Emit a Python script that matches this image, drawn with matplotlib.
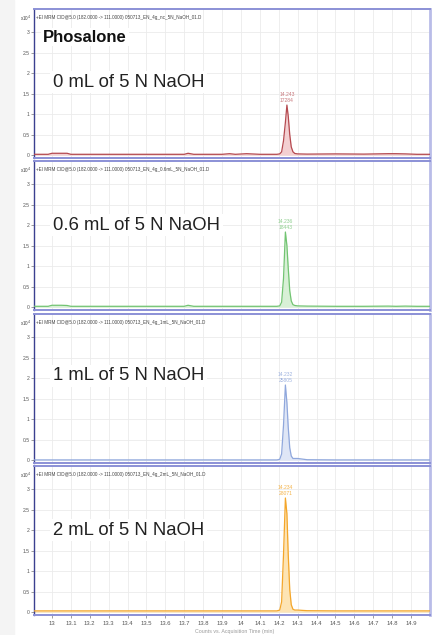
"""Phosalone MRM chromatograms at four NaOH additions (stacked panels)."""

import matplotlib

matplotlib.use("Agg")
import matplotlib.pyplot as plt  # noqa: E402
from matplotlib.patches import Rectangle  # noqa: E402
import numpy as np  # noqa: E402

# ---- data ------------------------------------------------------------------
conditions = ["0 mL of 5 N NaOH", "0.6 mL of 5 N NaOH",
              "1 mL of 5 N NaOH", "2 mL of 5 N NaOH"]
files = ["050713_EN_4g_nc_5N_NaOH_01.D", "050713_EN_4g_0.6mL_5N_NaOH_01.D",
         "050713_EN_4g_1mL_5N_NaOH_01.D", "050713_EN_4g_2mL_5N_NaOH_01.D"]
peak_rt = ["14.243", "14.236", "14.232", "14.234"]
peak_height = ["17284", "18443", "25805", "28071"]

# acquisition time (min), shared grid
rt = [12.905, 12.98, 13.0, 13.05, 13.08, 13.1, 13.3, 13.5, 13.7, 13.72,
      13.75, 13.9, 13.94, 13.97, 14.03, 14.1, 14.19, 14.205, 14.215, 14.225,
      14.235, 14.243, 14.25, 14.258, 14.266, 14.275, 14.285, 14.3, 14.35,
      14.5, 14.65, 14.78, 14.82, 14.87, 14.93, 15.0]

# counts x10^4
counts_0ml = [0.02, 0.02, 0.045, 0.045, 0.045, 0.02, 0.02, 0.02, 0.02, 0.045,
              0.02, 0.02, 0.035, 0.02, 0.035, 0.02, 0.02, 0.03, 0.08, 0.35,
              0.80, 1.22, 0.95, 0.50, 0.20, 0.08, 0.04, 0.03, 0.025, 0.03,
              0.025, 0.035, 0.035, 0.03, 0.02, 0.02]
counts_06ml = [0.02, 0.02, 0.045, 0.045, 0.04, 0.02, 0.02, 0.02, 0.02, 0.045,
               0.02, 0.02, 0.02, 0.02, 0.02, 0.02, 0.02, 0.03, 0.12, 0.70,
               1.83, 1.50, 0.95, 0.40, 0.15, 0.06, 0.04, 0.03, 0.025, 0.02,
               0.02, 0.025, 0.02, 0.025, 0.02, 0.02]
counts_1ml = [0.005, 0.005, 0.005, 0.005, 0.005, 0.005, 0.005, 0.005, 0.005,
              0.005, 0.005, 0.005, 0.005, 0.005, 0.005, 0.005, 0.005, 0.02,
              0.15, 0.85, 1.83, 1.40, 0.80, 0.30, 0.10, 0.04, 0.04, 0.04,
              0.01, 0.005, 0.005, 0.005, 0.005, 0.005, 0.005, 0.005]
counts_2ml = [0.03, 0.03, 0.03, 0.03, 0.03, 0.03, 0.03, 0.03, 0.03, 0.03,
              0.03, 0.03, 0.03, 0.03, 0.03, 0.03, 0.03, 0.05, 0.25, 1.40,
              2.78, 2.40, 1.40, 0.55, 0.18, 0.07, 0.05, 0.05, 0.035, 0.03,
              0.03, 0.03, 0.03, 0.03, 0.03, 0.03]
traces = [counts_0ml, counts_06ml, counts_1ml, counts_2ml]

line_colors = ["#b5494f", "#72c472", "#8fa7dc", "#f4a62a"]
fill_colors = ["#f3cfd1", "#d8f0d6", "#dfe6f6", "#fde4b4"]
label_colors = ["#c97a7e", "#8fcf8f", "#9fb3e0", "#f4b34a"]

x_ticks = [round(13 + 0.1 * i, 1) for i in range(20)]
y_ticks = [0, 0.5, 1, 1.5, 2, 2.5, 3]

plt.rcParams["font.family"] = ["Liberation Sans", "DejaVu Sans"]
NARROW = ["Liberation Sans Narrow", "Liberation Sans", "DejaVu Sans"]

W, H = 435, 635
fig = plt.figure(figsize=(W / 100, H / 100), dpi=100)
fig.add_artist(Rectangle((0, 0), 14 / W, 1, transform=fig.transFigure,
                         color="#f4f4f4", zorder=0))

left_px, right_px = 34, 430
bottoms = [158, 310, 463, 615]
panel_h = 149
title_y = [0.51, 0.57, 0.584, 0.57]

for i in range(4):
    b = 1 - bottoms[i] / H
    ax = fig.add_axes([left_px / W, b, (right_px - left_px) / W, panel_h / H])
    ax.set_xlim(12.905, 15.0)
    ax.set_ylim(-0.07, 3.56)

    y = np.array(traces[i])
    ax.fill_between(rt, 0, y, color=fill_colors[i], lw=0, zorder=2)
    ax.plot(rt, y, color=line_colors[i], lw=0.9, zorder=3)

    ax.set_xticks(x_ticks)
    ax.set_yticks(y_ticks)
    ax.grid(True, color="#ebebeb", lw=0.6, zorder=0)
    ax.set_axisbelow(True)
    ax.set_yticklabels([f"{v:g}" for v in y_ticks], fontsize=3.6,
                       color="#555555", family=NARROW)
    ax.tick_params(axis="y", length=2, width=0.5, color="#777777", pad=1)
    if i == 3:
        ax.set_xticklabels([f"{v:g}" for v in x_ticks], fontsize=4.2,
                           color="#555555", family=NARROW)
        ax.tick_params(axis="x", length=2, width=0.5, color="#777777", pad=2)
    else:
        ax.tick_params(axis="x", length=0, labelbottom=False)

    for side in ("top", "bottom"):
        ax.spines[side].set_color("#8b90d6")
        ax.spines[side].set_linewidth(1.4)
    ax.spines["right"].set_color("#b9bce8")
    ax.spines["right"].set_linewidth(2.0)
    ax.spines["left"].set_color("#3b4090")
    ax.spines["left"].set_linewidth(1.0)

    # instrument header line
    ax.text(0.004, 0.94, f"+EI MRM CID@5.0 (182.0000 -> 111.0000) {files[i]}",
            transform=ax.transAxes, fontsize=3.3, color="#444444",
            family=NARROW, va="center", ha="left")
    ax.text(-0.006, 0.94, r"x10$^4$", transform=ax.transAxes, fontsize=3.3,
            color="#444444", va="center", ha="right")

    # peak annotation
    k = int(np.argmax(y))
    ax.text(rt[k], y[k] + 0.06, f"{peak_rt[i]}\n{peak_height[i]}",
            fontsize=3.6, color=label_colors[i], ha="center", va="bottom",
            family=NARROW, linespacing=1.1, zorder=4)

    ax.text(0.048, title_y[i], conditions[i], transform=ax.transAxes,
            fontsize=13.3, color="#222222", va="center", ha="left", zorder=5,
            bbox=dict(boxstyle="square,pad=0.15", fc="white", ec="none"))
    if i == 0:
        ax.text(0.023, 0.81, "Phosalone", transform=ax.transAxes,
                fontsize=12, fontweight="bold", color="#111111",
                va="center", ha="left", zorder=5,
                bbox=dict(boxstyle="square,pad=0.1", fc="white", ec="none"))

fig.text(235 / W, 1 - 631 / H, "Counts vs. Acquisition Time (min)",
         fontsize=3.8, color="#9a9a9a", ha="center", va="center",
         family=NARROW)

fig.savefig("out.png", dpi=100, facecolor="white")
